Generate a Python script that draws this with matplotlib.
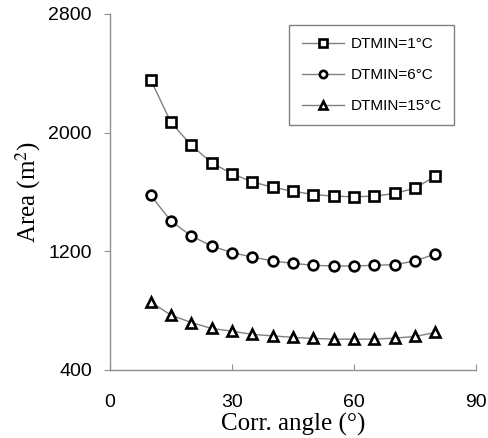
import matplotlib
matplotlib.use("Agg")
import matplotlib.pyplot as plt

# corrugation angle (deg)
angle = [10, 15, 20, 25, 30, 35, 40, 45, 50, 55, 60, 65, 70, 75, 80]

# heat transfer area (m2) for each DTMIN
area_1 = [2356, 2069, 1915, 1796, 1724, 1668, 1632, 1605, 1583, 1572, 1568, 1572, 1590, 1626, 1706]
area_6 = [1578, 1404, 1303, 1236, 1191, 1162, 1135, 1119, 1106, 1101, 1101, 1106, 1110, 1135, 1182]
area_15 = [859, 770, 720, 680, 662, 640, 630, 620, 613, 608, 608, 608, 615, 626, 653]

labels = ["DTMIN=1\u00b0C", "DTMIN=6\u00b0C", "DTMIN=15\u00b0C"]
markers = ["s", "o", "^"]

plt.rcParams["font.family"] = ["Liberation Sans", "DejaVu Sans"]
plt.rcParams["mathtext.fontset"] = "stix"

fig = plt.figure(figsize=(4.89, 4.38), dpi=100)
ax = fig.add_axes([110 / 489, 68 / 438, 366 / 489, 356 / 438])

for y, m, lab in zip([area_1, area_6, area_15], markers, labels):
    ax.plot(angle, y, color="#808080", lw=1.0, marker=m, ms=7,
            mfc="white", mec="black", mew=1.9, label=lab)

ax.set_xlim(0, 90)
ax.set_ylim(400, 2800)
ax.set_xticks([0, 30, 60, 90])
ax.set_yticks([400, 1200, 2000, 2800])

for s in ["top", "right"]:
    ax.spines[s].set_visible(False)
for s in ["left", "bottom"]:
    ax.spines[s].set_color("#909090")
    ax.spines[s].set_linewidth(1.0)

ax.tick_params(axis="x", direction="in", length=4, color="#909090",
               labelsize=14, pad=17)
ax.tick_params(axis="y", direction="out", length=4, color="#909090",
               labelsize=14, pad=9)

ax.set_xlabel("Corr. angle (\u00b0)", family="Liberation Serif", fontsize=18, labelpad=2)
ax.set_ylabel(r"Area (m$^{2}$)", family="Liberation Serif", fontsize=18, labelpad=4)

leg = ax.legend(loc="upper right", bbox_to_anchor=(0.94, 0.969), borderaxespad=0,
                fontsize=11, fancybox=False, edgecolor="#808080", framealpha=1,
                handlelength=2.8, handletextpad=0.4, labelspacing=1.1,
                borderpad=0.8, markerscale=0.75)
leg.get_frame().set_linewidth(1.0)

fig.savefig("out.png", dpi=100)
